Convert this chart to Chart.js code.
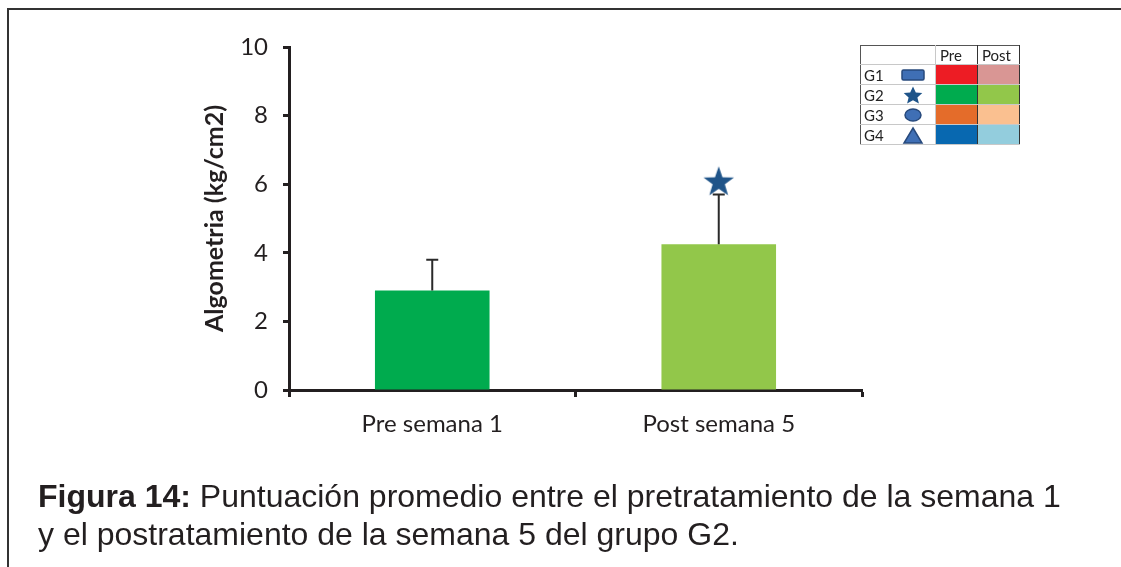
<!DOCTYPE html>
<html>
<head>
<meta charset="utf-8">
<script src="https://cdn.jsdelivr.net/npm/chart.js@4/dist/chart.umd.min.js"></script>
<style>
  html, body { margin: 0; padding: 0; background: #fff; }
  #wrap { position: relative; width: 1121px; height: 567px; overflow: hidden; }
  #frame { position: absolute; left: 7px; top: 8px; width: 1200px; height: 700px;
           border-left: 2px solid #333; border-top: 2px solid #333; }
  #chart { position: absolute; left: 0; top: 0; }
  #caption { position: absolute; left: 38px; top: 477px; margin: 0;
             font-family: "Liberation Sans", Arial, sans-serif; font-size: 32px;
             line-height: 38px; color: #231f20; white-space: nowrap; }
  #caption b { font-weight: bold; }
  #key { position: absolute; left: 860px; top: 45px; width: 160px; height: 100px; overflow: hidden; }
  #key table { border-collapse: collapse; table-layout: fixed; }
  #key tr { height: 20px; }
  #key td { box-sizing: border-box; height: 20px; padding: 0; border: 1px solid #c8c8c8;
            font-family: Lato, "Open Sans", sans-serif; font-size: 15px; line-height: 18px;
            color: #222; overflow: hidden; white-space: nowrap; }
  #key tr:first-child td { border-top: 1px solid #555; height: 19px; }
  #key tr:first-child { height: 19px; }
  #key td.lab { width: 75px; border-left: 1px solid #555; }
  #key td.c { width: 42px; border-left: 1px solid #333; border-right: 1px solid #333; }
  #key td.h { text-align: left; padding-left: 4px; }
  #key .g { display: inline-block; width: 36px; padding-left: 3px; vertical-align: top; }
  #key svg { display: inline-block; vertical-align: top; }
</style>
</head>
<body>
<div id="wrap">
  <div id="frame"></div>
  <canvas id="chart" width="1121" height="567"></canvas>
  <div id="key">
    <table>
      <tr><td class="lab"></td><td class="c h">Pre</td><td class="c h">Post</td></tr>
      <tr><td class="lab"><span class="g">G1</span><svg width="26" height="18"><rect x="2" y="4" width="22" height="10" rx="1.5" fill="#3f6fb5" stroke="#27497c" stroke-width="1.5"/></svg></td>
          <td class="c" style="background:#ed1c24"></td><td class="c" style="background:#d99694"></td></tr>
      <tr><td class="lab"><span class="g">G2</span><svg width="26" height="18"><polygon points="13,0.5 15.8,6.6 22.3,7.1 17.4,11.5 18.9,17.5 13,14.3 7.1,17.5 8.6,11.5 3.7,7.1 10.2,6.6" fill="#1f5489"/></svg></td>
          <td class="c" style="background:#00ab4e"></td><td class="c" style="background:#92c74a"></td></tr>
      <tr><td class="lab"><span class="g">G3</span><svg width="26" height="18"><ellipse cx="13" cy="9" rx="8" ry="6" fill="#3f6fb5" stroke="#27497c" stroke-width="1.5"/></svg></td>
          <td class="c" style="background:#e46c2a"></td><td class="c" style="background:#fac090"></td></tr>
      <tr><td class="lab"><span class="g">G4</span><svg width="26" height="18"><polygon points="13,2 22,17 4,17" fill="#3f6fb5" stroke="#27497c" stroke-width="1.5"/></svg></td>
          <td class="c" style="background:#0868b0"></td><td class="c" style="background:#93cddd"></td></tr>
    </table>
  </div>
  <p id="caption"><b>Figura 14:</b> Puntuación promedio entre el pretratamiento de la semana 1<br>y el postratamiento de la semana 5 del grupo G2.</p>
</div>
<script>
// Algometry means (kg/cm2) for group G2, week 1 before and week 5 after treatment
const categories = ['Pre semana 1', 'Post semana 5'];
const means = [2.9, 4.25];
const errorTops = [3.8, 5.7];          // upper end of each error bar
const significance = [null, 6.1];      // star marker above the post bar
const barColors = ['#00ab4e', '#92c74a'];
const yTicks = [0, 2, 4, 6, 8, 10];

const ink = '#231f20';

// filled five-point star used as the significance marker
function makeStar(size, color) {
  const c = document.createElement('canvas');
  c.width = size; c.height = size;
  const ctx = c.getContext('2d');
  const cx = size / 2, cy = size / 2 + size * 0.05;
  const ro = size / 2, ri = ro * 0.4;
  ctx.beginPath();
  for (let i = 0; i < 10; i++) {
    const r = i % 2 === 0 ? ro : ri;
    const a = -Math.PI / 2 + i * Math.PI / 5;
    const x = cx + r * Math.cos(a), y = cy + r * Math.sin(a);
    if (i === 0) ctx.moveTo(x, y); else ctx.lineTo(x, y);
  }
  ctx.closePath();
  ctx.fillStyle = color;
  ctx.fill();
  return c;
}
const starImg = makeStar(32, '#1f5489');

// vertical error bars with a flat cap, positioned from the scale
const errorBars = {
  id: 'errorBars',
  afterDatasetsDraw(chart) {
    const meta = chart.getDatasetMeta(0);
    const y = chart.scales.y;
    const ctx = chart.ctx;
    ctx.save();
    ctx.strokeStyle = '#2a2a2a';
    ctx.lineWidth = 2;
    meta.data.forEach((bar, i) => {
      const top = y.getPixelForValue(errorTops[i]);
      const base = y.getPixelForValue(means[i]);
      ctx.beginPath();
      ctx.moveTo(bar.x, base);
      ctx.lineTo(bar.x, top);
      ctx.moveTo(bar.x - 6, top);
      ctx.lineTo(bar.x + 6, top);
      ctx.stroke();
    });
    ctx.restore();
  }
};

new Chart(document.getElementById('chart'), {
  data: {
    labels: categories,
    datasets: [
      {
        type: 'bar',
        data: means,
        backgroundColor: barColors,
        borderWidth: 0,
        barPercentage: 0.4,
        categoryPercentage: 1.0,
        order: 2
      },
      {
        type: 'line',
        data: significance,
        showLine: false,
        pointStyle: starImg,
        pointRadius: 16,
        order: 1
      }
    ]
  },
  options: {
    responsive: false,
    animation: false,
    events: [],
    layout: { padding: { left: 190, top: 47, right: 259, bottom: 117 } },
    plugins: { legend: { display: false }, tooltip: { enabled: false } },
    scales: {
      x: {
        type: 'category',
        offset: true,
        grid: { display: true, offset: true, drawOnChartArea: false, drawTicks: true,
                tickLength: 7, tickWidth: 3, tickColor: ink },
        border: { display: true, color: ink, width: 3 },
        ticks: { color: ink, padding: 13, font: { family: 'Lato', size: 24 } },
        afterFit(s) { s.height = 60; }
      },
      y: {
        min: 0,
        max: 10,
        afterBuildTicks(s) { s.ticks = yTicks.map(v => ({ value: v })); },
        grid: { display: true, drawOnChartArea: false, drawTicks: true,
                tickLength: 6, tickWidth: 3, tickColor: ink },
        border: { display: true, color: ink, width: 3 },
        ticks: { color: ink, padding: 15, font: { family: 'Lato', size: 24 } },
        title: { display: true, text: 'Algometria (kg/cm2)', color: ink,
                 font: { family: 'Lato', size: 25, weight: 'bold' }, padding: { top: 10, bottom: 0 } },
        afterFit(s) { s.width = 99; }
      }
    }
  },
  plugins: [errorBars]
});
</script>
</body>
</html>
